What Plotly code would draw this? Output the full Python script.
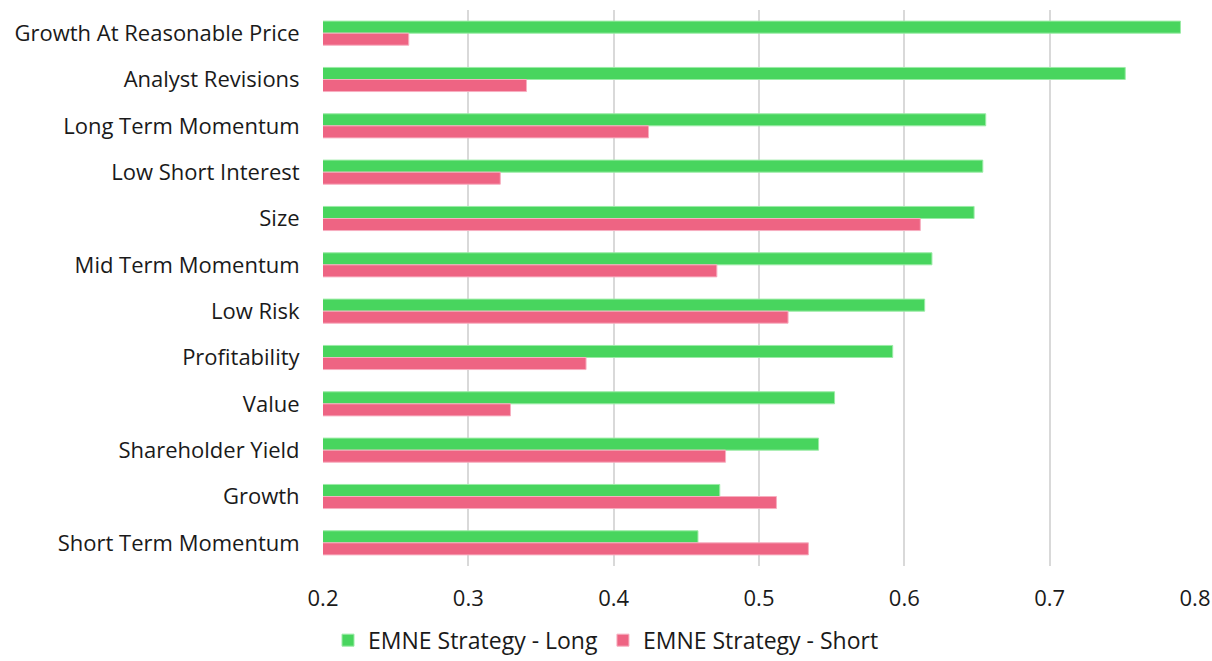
import plotly.graph_objects as go

# Factor names, top to bottom
factors = [
    "Growth At Reasonable Price",
    "Analyst Revisions",
    "Long Term Momentum",
    "Low Short Interest",
    "Size",
    "Mid Term Momentum",
    "Low Risk",
    "Profitability",
    "Value",
    "Shareholder Yield",
    "Growth",
    "Short Term Momentum",
]

long_values = [0.790, 0.752, 0.656, 0.654, 0.648, 0.619, 0.614, 0.592, 0.552, 0.541, 0.473, 0.458]
short_values = [0.259, 0.340, 0.424, 0.322, 0.611, 0.471, 0.520, 0.381, 0.329, 0.477, 0.512, 0.534]

x_ticks = [0.2, 0.3, 0.4, 0.5, 0.6, 0.7, 0.8]

GREEN = "#48D55E"
RED = "#EE6483"
FONT = "Open Sans"

fig = go.Figure()
fig.add_trace(go.Bar(
    y=factors, x=long_values, orientation="h", name="EMNE Strategy - Long",
    marker=dict(color=GREEN, line=dict(color="#9BEBA6", width=1)),
))
fig.add_trace(go.Bar(
    y=factors, x=short_values, orientation="h", name="EMNE Strategy - Short",
    marker=dict(color=RED, line=dict(color="#F7AFC0", width=1)),
))

fig.update_layout(
    width=1212, height=661,
    margin=dict(l=323, r=17, t=10, b=95),
    paper_bgcolor="white", plot_bgcolor="white",
    barmode="group", bargap=0.48, bargroupgap=0,
    font=dict(family=FONT, size=22, color="#1a1a1a"),
    showlegend=True,
    legend=dict(
        orientation="h", xref="container", yref="container",
        x=0.5, xanchor="center", y=0.064, yanchor="top",
        font=dict(size=23), itemwidth=30, tracegroupgap=0,
    ),
)
fig.update_xaxes(
    range=[0.2, 0.8], tickvals=x_ticks, ticktext=[f"{v:.1f}" for v in x_ticks],
    showgrid=True, gridcolor="#D9D9D9", gridwidth=1.5,
    zeroline=False, showline=False,
    ticks="outside", ticklen=13, tickcolor="rgba(0,0,0,0)",
    tickfont=dict(size=22), fixedrange=True,
    automargin=False, ticklabeloverflow="allow",
)
fig.update_yaxes(
    autorange="reversed", showgrid=False, zeroline=False, showline=False,
    ticks="outside", ticklen=18, tickcolor="rgba(0,0,0,0)",
    tickfont=dict(size=22), automargin=False,
)

fig.write_html("out.html")
